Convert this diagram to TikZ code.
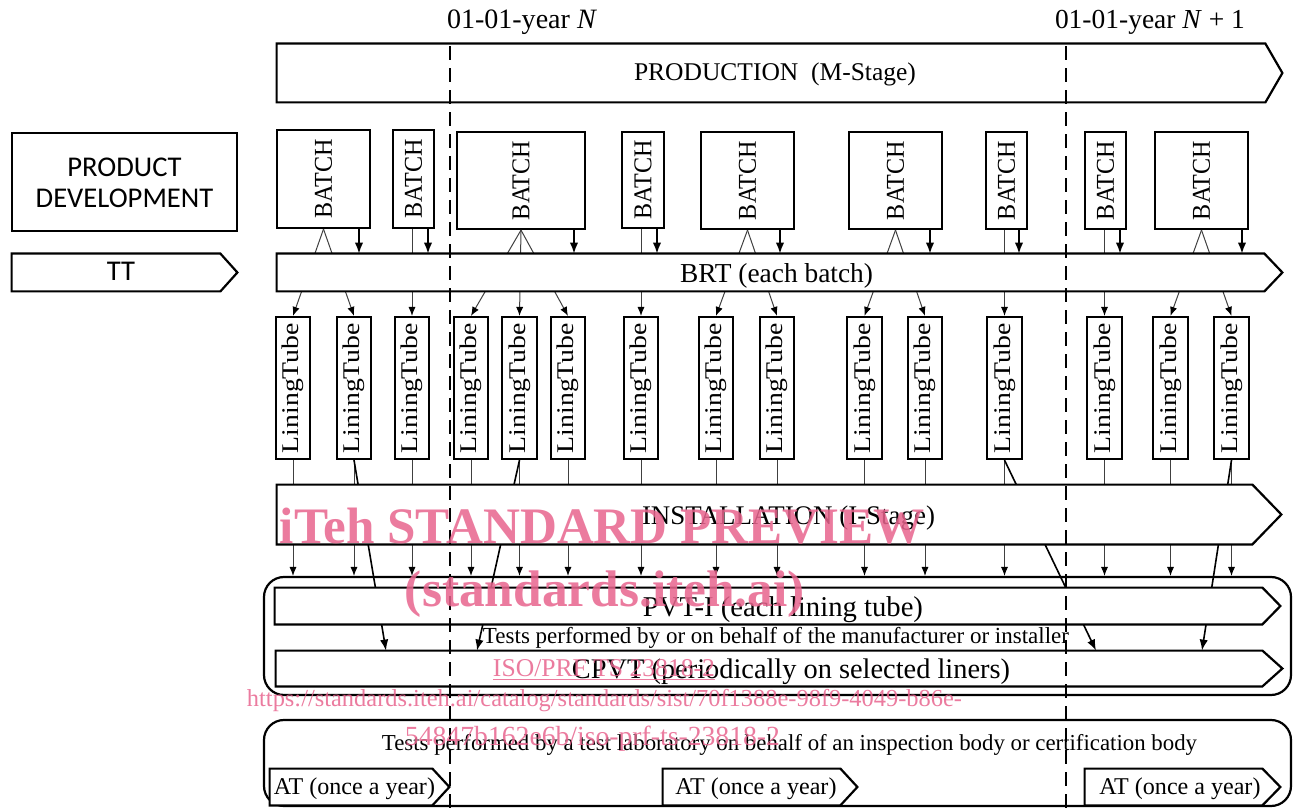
\documentclass[tikz,border=0pt]{standalone}
\usepackage{fontspec}
\setmainfont{Liberation Serif}
\newfontfamily\calfont{Carlito}
\usetikzlibrary{arrows.meta,fit}
\definecolor{wm}{RGB}{232,100,142}
\newcommand\rw[2]{\resizebox{#1pt}{!}{#2}}
\newcommand\fitnode[5]{\node[inner sep=0pt,fit={(#2,#3)(#4,#5)}] (#1) {};}
\newcommand\drawashape[2]{\draw[shp] (#1.north west) -- ([xshift=-#2pt]#1.north east) -- (#1.east) -- ([xshift=-#2pt]#1.south east) -- (#1.south west) -- cycle;}
\newcommand\batchbox[5]{\node[box,fit={(#2,#3)(#4,#5)}] (#1) {};
  \node[rotate=90,inner sep=0pt] (#1t) at (#1.center) {\resizebox{39.5pt}{8.5pt}{BATCH}};}
\newcommand\tubebox[3]{\node[box,fit={(#2,317)(#3,459)}] (#1) {};
  \node[rotate=90,inner sep=0pt] (#1t) at (#1.center) {\resizebox{65pt}{8.3pt}{LiningTube}};}
\begin{document}
\begin{tikzpicture}[x=0.5pt,y=-0.5pt,
  box/.style={draw,line width=1.1pt,fill=white,inner sep=0pt},
  rbox/.style={draw,line width=1.1pt,rounded corners=10pt,inner sep=0pt},
  shp/.style={draw,line width=1.1pt,fill=white,line join=miter},
  tin/.style={line width=0.5pt,draw=black!75},
  tinarr/.style={tin,-{Latex[length=4.5pt,width=3.6pt,color=black]}},
  thkarr/.style={line width=0.8pt,-{Latex[length=5.5pt,width=4.2pt]}},
  dsh/.style={line width=1.1pt,dash pattern=on 7pt off 4pt},
  lbl/.style={inner sep=0pt,anchor=base},
  wmk/.style={inner sep=0pt,anchor=base,text=wm,opacity=0.85}]
\useasboundingbox (0,0) rectangle (1298,808);

% invisible frames of the arrow-shaped bars
\fitnode{prod}{277}{44}{1282}{102}
\fitnode{tt}{12}{254}{237}{291}
\fitnode{brt}{277}{254}{1282}{291}
\fitnode{inst}{277}{485}{1281}{544}
\fitnode{pvt}{275}{588}{1280}{624}
\fitnode{cpvt}{276}{651}{1282}{686}
\fitnode{at1}{270}{769}{449}{805}
\fitnode{at2}{663}{769}{857}{805}
\fitnode{at3}{1085}{769}{1280}{805}

% rounded frames
\node[rbox,fit={(264,577)(1291,695)}] (r1) {};
\node[rbox,fit={(264,720)(1291,806)}] (r2) {};

% product development
\node[box,fit={(12,133)(237,231)}] (pd) {};
\node[align=center,inner sep=0pt,font=\calfont\fontsize{14.3}{15.5}\selectfont] (pdt) at (124.5,183) {PRODUCT\\DEVELOPMENT};

% batches
\batchbox{b1}{277}{130}{370}{228}
\batchbox{b2}{393}{130}{434}{228}
\batchbox{b3}{457}{132}{585}{229}
\batchbox{b4}{622}{132}{664}{228}
\batchbox{b5}{701}{132}{794}{229}
\batchbox{b6}{849}{132}{942}{229}
\batchbox{b7}{986}{132}{1027}{229}
\batchbox{b8}{1085}{132}{1126}{229}
\batchbox{b9}{1155}{132}{1248}{229}

% lining tubes
\tubebox{lt1}{276}{310}
\tubebox{lt2}{337}{371}
\tubebox{lt3}{395}{429}
\tubebox{lt4}{454}{488}
\tubebox{lt5}{502}{537}
\tubebox{lt6}{551}{585}
\tubebox{lt7}{624}{658}
\tubebox{lt8}{699}{733}
\tubebox{lt9}{760}{794}
\tubebox{lt10}{847}{882}
\tubebox{lt11}{908}{942}
\tubebox{lt12}{987}{1022}
\tubebox{lt13}{1087}{1122}
\tubebox{lt14}{1153}{1188}
\tubebox{lt15}{1214}{1249}

% batch -> lining tube (behind BRT)
\draw[tinarr] (b1.south) -- (lt1.north);
\draw[tinarr] (b1.south) -- (lt2.north);
\draw[tinarr] (lt3.north |- b2.south) -- (lt3.north);
\draw[tinarr] (b3.south) -- (lt4.north);
\draw[tinarr] (b3.south) -- (lt5.north);
\draw[tinarr] (b3.south) -- (lt6.north);
\draw[tinarr] (lt7.north |- b4.south) -- (lt7.north);
\draw[tinarr] (b5.south) -- (lt8.north);
\draw[tinarr] (b5.south) -- (lt9.north);
\draw[tinarr] (b6.south) -- (lt10.north);
\draw[tinarr] (b6.south) -- (lt11.north);
\draw[tinarr] (lt12.north |- b7.south) -- (lt12.north);
\draw[tinarr] (lt13.north |- b8.south) -- (lt13.north);
\draw[tinarr] (b9.south) -- (lt14.north);
\draw[tinarr] (b9.south) -- (lt15.north);

% lining tube -> PVT-I frame (behind INSTALLATION)
\foreach \t in {lt1,lt2,lt3,lt4,lt5,lt6,lt7,lt8,lt9,lt10,lt11,lt12,lt13,lt14,lt15}
  \draw[tinarr] (\t.south) -- (\t.south |- r1.north);

% selected tubes -> CPVT
\draw[thkarr] (lt2.south) -- (cpvt.north -| 386,0);
\draw[thkarr] (lt5.south) -- (cpvt.north -| 477,0);
\draw[thkarr] (lt12.south) -- (cpvt.north -| 1096,0);
\draw[thkarr] (lt15.south) -- (cpvt.north -| 1202,0);

% arrow-shaped bars
\drawashape{prod}{8.5}
\drawashape{tt}{8.5}
\drawashape{brt}{9}
\drawashape{inst}{14.5}
\drawashape{pvt}{9}
\drawashape{cpvt}{10}
\drawashape{at1}{8.5}
\drawashape{at2}{8.5}
\drawashape{at3}{9}

% batch -> BRT
\draw[thkarr] (b1.south -| 359,0) -- (brt.north -| 359,0);
\draw[thkarr] (b2.south -| 428,0) -- (brt.north -| 428,0);
\draw[thkarr] (b3.south -| 574,0) -- (brt.north -| 574,0);
\draw[thkarr] (b4.south -| 657,0) -- (brt.north -| 657,0);
\draw[thkarr] (b5.south -| 780,0) -- (brt.north -| 780,0);
\draw[thkarr] (b6.south -| 930,0) -- (brt.north -| 930,0);
\draw[thkarr] (b7.south -| 1019,0) -- (brt.north -| 1019,0);
\draw[thkarr] (b8.south -| 1120,0) -- (brt.north -| 1120,0);
\draw[thkarr] (b9.south -| 1242,0) -- (brt.north -| 1242,0);

% labels
\node[lbl] (prodt) at (775,81) {\rw{141}{PRODUCTION\ \ (M-Stage)}};
\node[lbl,font=\calfont\fontsize{14.3}{15.5}\selectfont] (ttt) at (121,280) {TT};
\node[lbl] (brtt) at (776.5,283) {\rw{96.5}{BRT (each batch)}};
\node[lbl] (instt) at (788.5,524) {\rw{146.5}{INSTALLATION (I-Stage)}};
\node[lbl] (pvtt) at (783,616) {\rw{140}{PVT-I (each lining tube)}};
\node[lbl] (man) at (776,643) {\rw{293}{Tests performed by or on behalf of the manufacturer or installer}};
\node[lbl] (cpvtt) at (791,678) {\rw{219}{CPVT (periodically on selected liners)}};
\node[lbl] (lab) at (789.5,750) {\rw{407.5}{Tests performed by a test laboratory on behalf of an inspection body or certification body}};
\node[lbl] (at1t) at (354.5,794) {\rw{80.5}{AT (once a year)}};
\node[lbl] (at2t) at (756,794) {\rw{80.5}{AT (once a year)}};
\node[lbl] (at3t) at (1180,794) {\rw{80.5}{AT (once a year)}};

% year boundaries
\node[lbl] (yN) at (522,29) {\rw{75}{01-01-year \textit{N}}};
\node[lbl] (yN1) at (1150,29) {\rw{95}{01-01-year \textit{N} + 1}};
\draw[dsh] (yN.south -| 450,0) ++(0,11) -- (450,808);
\draw[dsh] (yN1.south -| 1066,0) ++(0,11) -- (1066,808);

% watermark
\node[wmk] (wm1) at (602.5,543) {\rw{322.5}{\bfseries iTeh STANDARD PREVIEW}};
\node[wmk] (wm2) at (605,606) {\rw{200}{\bfseries (standards.iteh.ai)}};
\node[wmk] (wm3) at (604,676) {\rw{111}{\underline{ISO/PRF TS 23818-2}}};
\node[wmk] (wm4) at (604.5,706) {\rw{357.5}{https://standards.iteh.ai/catalog/standards/sist/70f1388e-98f9-4049-b86e-}};
\node[wmk] (wm5) at (592.5,745) {\rw{187.5}{54847b162e6b/iso-prf-ts-23818-2}};
\end{tikzpicture}
\end{document}
